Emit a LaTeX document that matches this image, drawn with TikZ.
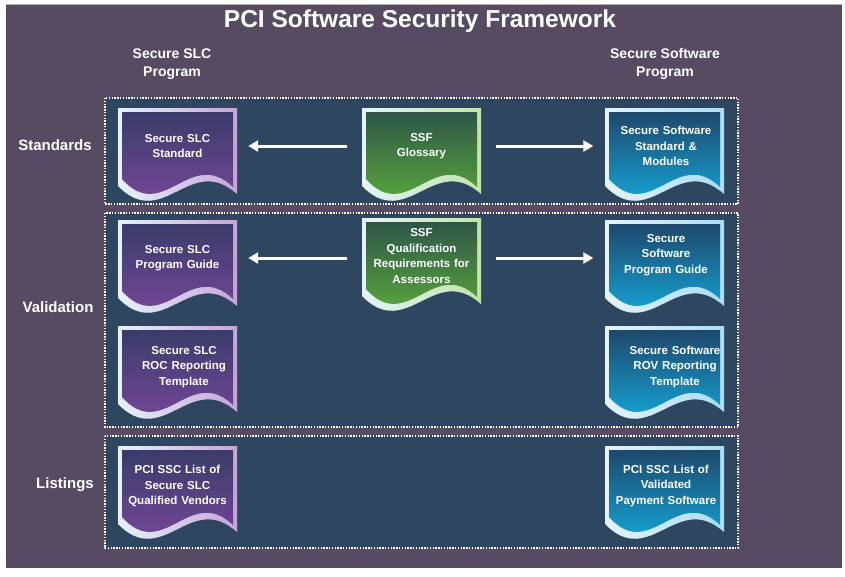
\documentclass[tikz,border=0pt]{standalone}
\usepackage{fontspec}
\setmainfont{Liberation Sans}
\usetikzlibrary{arrows.meta}
\definecolor{bgpurple}{HTML}{574B63}
\definecolor{panelblue}{HTML}{2E4660}
\definecolor{purtop}{HTML}{3A3C6A}
\definecolor{purbot}{HTML}{8449A4}
\definecolor{grntop}{HTML}{2E5646}
\definecolor{grnbot}{HTML}{64BC3A}
\definecolor{blutop}{HTML}{1E486C}
\definecolor{blubot}{HTML}{12BCF0}
\definecolor{bordL}{HTML}{E4F3FA}
\definecolor{bordpur}{HTML}{C7A3D8}
\definecolor{bordgrn}{HTML}{C2E3A9}
\definecolor{bordblu}{HTML}{A9DDF3}
\newcommand\docshape[5]{%
  \begin{scope}[shift={(#1,#2)}]
    \shade[left color=bordL, right color=#5]
      (0,0) -- (119,0) -- (119,86) .. controls (72,44) and (45,124) .. (0,78) -- cycle;
    \shade[top color=#3, middle color=#4!92!#3, bottom color=#4]
      (4,4) -- (115,4) -- (115,79) .. controls (72,38) and (45,117) .. (4,71) -- cycle;
  \end{scope}}
\tikzset{
  panel/.style={fill=panelblue, draw=white, line width=1.6pt, dash pattern=on 1.4pt off 1.4pt},
  doctext/.style={text=white, font=\bfseries\fontsize{11.5}{15.5}\selectfont, align=center,
    text width=111pt, inner sep=4pt, minimum height=76pt},
  rowlabel/.style={text=white, font=\bfseries\fontsize{15}{18}\selectfont},
  colhead/.style={text=white, font=\bfseries\fontsize{14}{18}\selectfont, align=center},
  arr/.style={draw=white, line width=3pt, -{Triangle[length=10pt,width=11pt]}}
}
\begin{document}
\begin{tikzpicture}[x=1pt,y=-1pt]
\useasboundingbox (0,0) rectangle (845,576);
\fill[white] (0,0) rectangle (845,576);
\fill[bgpurple] (6,4) rectangle (842,568);
\draw[gray!60, line width=1pt] (6,4.5) -- (842,4.5);

\node[text=white, font=\bfseries\fontsize{24.5}{28}\selectfont] (title) at (420,21) {PCI Software Security Framework};
\node[colhead] (hslc) at (172,64) {Secure SLC\\Program};
\node[colhead] (hsw) at (665,64) {Secure Software\\Program};

\draw[panel] (105,98) rectangle (738,204);
\draw[panel] (105,213) rectangle (738,427);
\draw[panel] (105,436) rectangle (738,548);

\node[rowlabel] (lstd) at (55,145) {Standards};
\node[rowlabel] (lval) at (58,307) {Validation};
\node[rowlabel] (llist) at (65,485) {Listings};

% documents
\docshape{118}{108}{purtop}{purbot}{bordpur}
\docshape{118}{220}{purtop}{purbot}{bordpur}
\docshape{118}{326}{purtop}{purbot}{bordpur}
\docshape{118}{446}{purtop}{purbot}{bordpur}
\docshape{362}{108}{grntop}{grnbot}{bordgrn}
\docshape{362}{218}{grntop}{grnbot}{bordgrn}
\docshape{605}{108}{blutop}{blubot}{bordblu}
\docshape{605}{220}{blutop}{blubot}{bordblu}
\docshape{605}{326}{blutop}{blubot}{bordblu}
\docshape{605}{446}{blutop}{blubot}{bordblu}

\node[doctext] (slcstd) at (177.5,146) {Secure SLC\\Standard};
\node[doctext] (gloss) at (421.5,146) {SSF\\Glossary};
\node[doctext] (swstd) at (666,146) {Secure Software\\Standard \&\\Modules};
\node[doctext] (slcguide) at (177.5,258) {Secure SLC\\Program Guide};
\node[doctext] (qual) at (421.5,256) {SSF\\Qualification\\Requirements for\\Assessors};
\node[doctext] (swguide) at (666,255) {Secure\\Software\\Program Guide};
\node[doctext] (roc) at (184,367) {Secure SLC\\ROC Reporting\\Template};
\node[doctext] (rov) at (675,367) {Secure Software\\ROV Reporting\\Template};
\node[doctext] (slclist) at (177.5,486) {PCI SSC List of\\Secure SLC\\Qualified Vendors};
\node[doctext] (swlist) at (666,486) {PCI SSC List of\\Validated\\Payment Software};

\draw[arr, shorten <=15pt, shorten >=11pt] (gloss.west) -- (slcstd.east);
\draw[arr, shorten <=15pt, shorten >=13pt] (gloss.east) -- (swstd.west);
\draw[arr, shorten <=15pt, shorten >=11pt] (qual.west |- slcguide.east) -- (slcguide.east);
\draw[arr, shorten <=15pt, shorten >=13pt] (qual.east |- slcguide.east) -- (swguide.west |- slcguide.east);
\end{tikzpicture}
\end{document}
